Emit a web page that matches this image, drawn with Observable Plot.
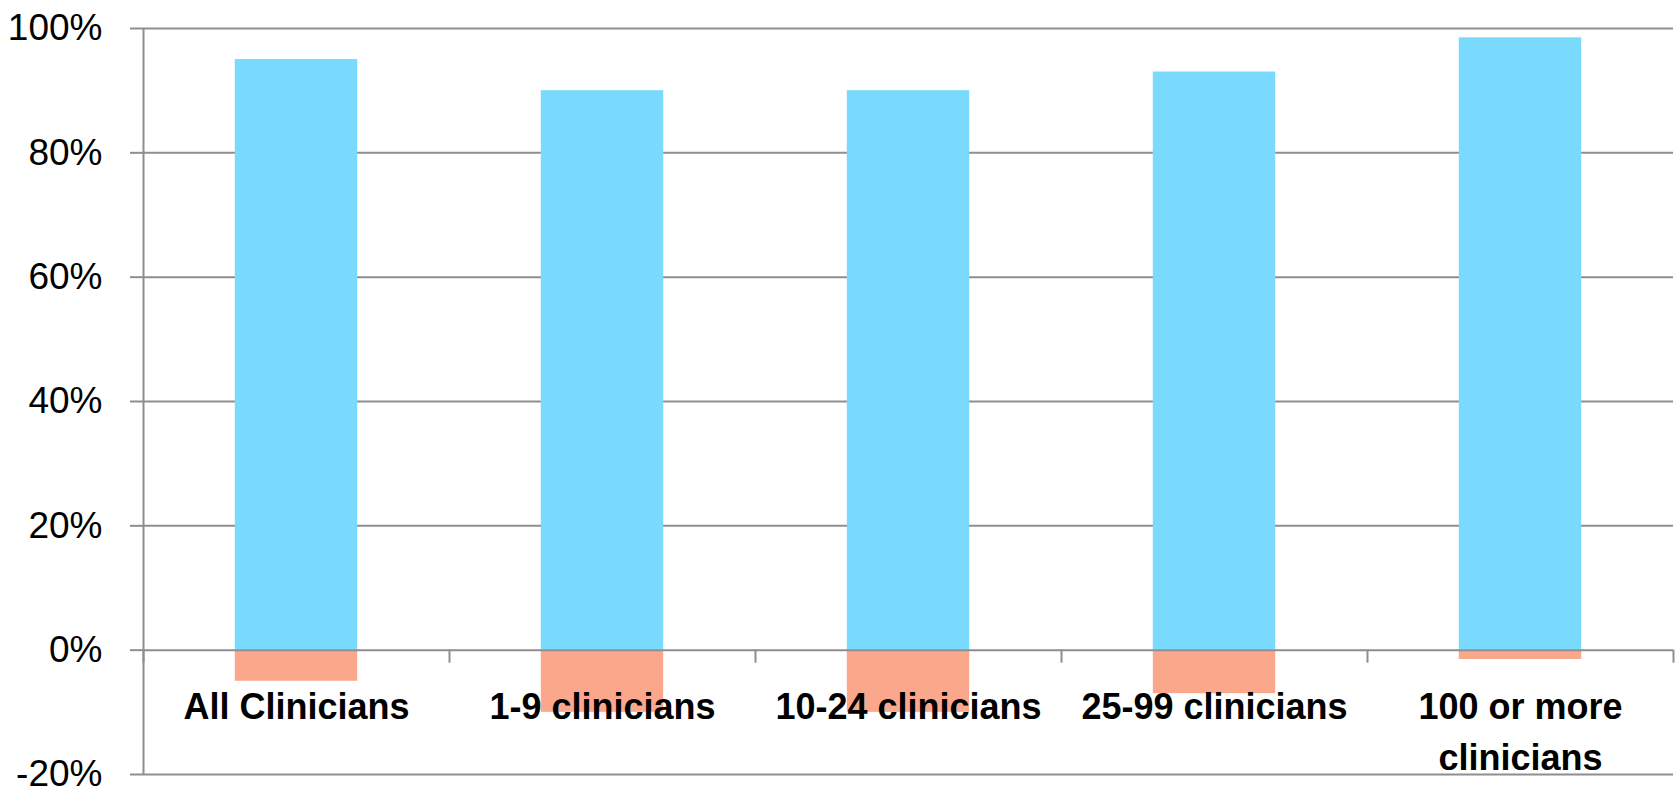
<!DOCTYPE html>
<html>
<head>
<meta charset="utf-8">
<script src="https://cdn.jsdelivr.net/npm/d3@7"></script>
<script src="https://cdn.jsdelivr.net/npm/@observablehq/plot@0.6"></script>
<style>
  html, body { margin: 0; padding: 0; background: #fff; }
</style>
</head>
<body>
<div id="chart"></div>
<script>
// Practice-size groups and the share of each group on either side of zero
const categories = [
  "All Clinicians",
  "1-9 clinicians",
  "10-24 clinicians",
  "25-99 clinicians",
  "100 or more\nclinicians"
];
const positiveShare = [95, 90, 90, 93, 98.5];
const negativeShare = [-5, -10, -10, -7, -1.5];
const yTicks = [-20, 0, 20, 40, 60, 80, 100];

const width = 1678, height = 790;
const marginLeft = 143, marginRight = 5, marginTop = 28, marginBottom = 16;
const step = (width - marginLeft - marginRight) / categories.length;
const barInset = step * 0.3;
const lineColor = "#8e8e8e";

const rows = categories.flatMap((c, i) => [
  {category: c, value: positiveShare[i], series: "positive"},
  {category: c, value: negativeShare[i], series: "negative"}
]);

const chart = Plot.plot({
  width, height, marginLeft, marginRight, marginTop, marginBottom,
  style: {fontFamily: "'Liberation Sans', Arial, sans-serif", color: "#000", background: "#fff"},
  x: {domain: categories, padding: 0, axis: null},
  y: {domain: [-20, 100], axis: null},
  color: {domain: ["positive", "negative"], range: ["#79dafd", "#fba78c"]},
  marks: [
    Plot.gridY(yTicks.filter(t => t !== 0), {stroke: lineColor, strokeOpacity: 1, strokeWidth: 2}),
    Plot.axisY(yTicks, {
      tickSize: 13, tickPadding: 28, tickFormat: d => d + "%",
      fontSize: 37, stroke: lineColor, strokeWidth: 2, strokeOpacity: 1,
      fill: "#000", label: null
    }),
    Plot.barY(rows, {x: "category", y: "value", fill: "series", insetLeft: barInset, insetRight: barInset}),
    // horizontal axis at zero, drawn over the bars
    Plot.ruleY([0], {stroke: lineColor, strokeWidth: 2}),
    // vertical axis line on the left edge of the first band
    Plot.ruleX([categories[0]], {x: d => d, dx: -step / 2, y1: -20, y2: 100, stroke: lineColor, strokeWidth: 2}),
    // category boundary ticks hanging below the zero line
    Plot.ruleX(categories, {x: d => d, dx: -step / 2, y1: 0, y2: 0, insetBottom: -13, stroke: lineColor, strokeWidth: 2}),
    Plot.ruleX([categories[categories.length - 1]], {x: d => d, dx: step / 2, y1: 0, y2: 0, insetBottom: -13, stroke: lineColor, strokeWidth: 2}),
    // category labels under the zero line
    Plot.text(categories, {
      x: d => d, y: 0, lineAnchor: "top", dy: 32,
      fontSize: 36, fontWeight: "bold", lineHeight: 1.43, fill: "#000"
    })
  ]
});

document.getElementById("chart").appendChild(chart);
</script>
</body>
</html>
